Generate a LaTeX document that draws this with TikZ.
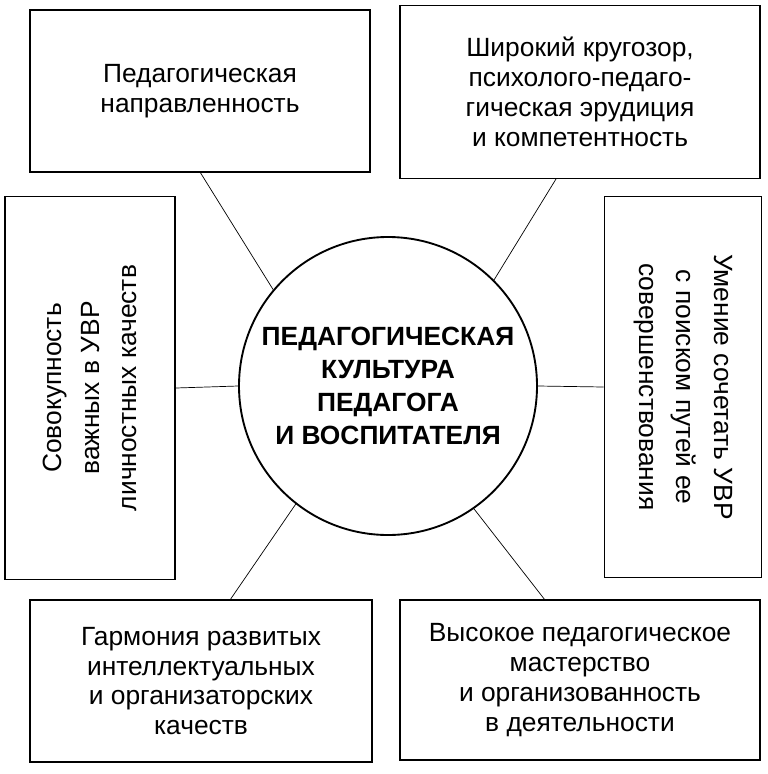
\documentclass[tikz,border=0pt]{standalone}
\usepackage{fontspec}
\setmainfont{Liberation Sans}
\begin{document}
\begin{tikzpicture}[x=0.03cm,y=-0.03cm,
  box/.style={draw,line width=1.6pt,align=center,font=\fontsize{22.5}{25.5}\selectfont},
  wide/.style={font=\fontsize{22.5}{32}\selectfont},
  link/.style={line width=0.6pt}]
\useasboundingbox (0,0) rectangle (768,774);
% outer boxes
\node[box,minimum width=340*0.03cm,minimum height=162*0.03cm] (tl) at (200,91) {Педагогическая\\направленность};
\node[box,minimum width=360*0.03cm,minimum height=173*0.03cm] (tr) at (580,92) {Широкий кругозор,\\психолого-педаго-\\гическая эрудиция\\и компетентность};
\node[box,wide,minimum width=383*0.03cm,minimum height=170*0.03cm,rotate=90] (lf) at (90,388) {Совокупность\\важных в УВР\\личностных качеств};
\node[box,wide,minimum width=381*0.03cm,minimum height=157*0.03cm,rotate=-90] (rt) at (683,387) {Умение сочетать УВР\\с поиском путей ее\\совершенствования};
\node[box,minimum width=342*0.03cm,minimum height=162*0.03cm] (bl) at (201,681) {Гармония развитых\\интеллектуальных\\и организаторских\\качеств};
\node[box,minimum width=360*0.03cm,minimum height=160*0.03cm] (br) at (580,680) {Высокое педагогическое\\мастерство\\и организованность\\в деятельности};
% centre
\node[draw,circle,line width=1.6pt,minimum size=298*0.03cm,inner sep=0pt,align=center,
  font=\bfseries\fontsize{22.5}{28}\selectfont] (c) at (388,386)
  {ПЕДАГОГИЧЕСКАЯ\\КУЛЬТУРА\\ПЕДАГОГА\\И ВОСПИТАТЕЛЯ};
% connectors
\coordinate (tlend) at (200,172);
\coordinate (trend) at (556,179);
\coordinate (blend) at (230,600);
\coordinate (brend) at (545,600);
\draw[link] (tlend) -- (c.140);
\draw[link] (trend) -- (c.45);
\draw[link] (lf.south) -- (c.west);
\draw[link] (rt.south) -- (c.east);
\draw[link] (blend) -- (c.232);
\draw[link] (brend) -- (c.305);
\end{tikzpicture}
\end{document}
